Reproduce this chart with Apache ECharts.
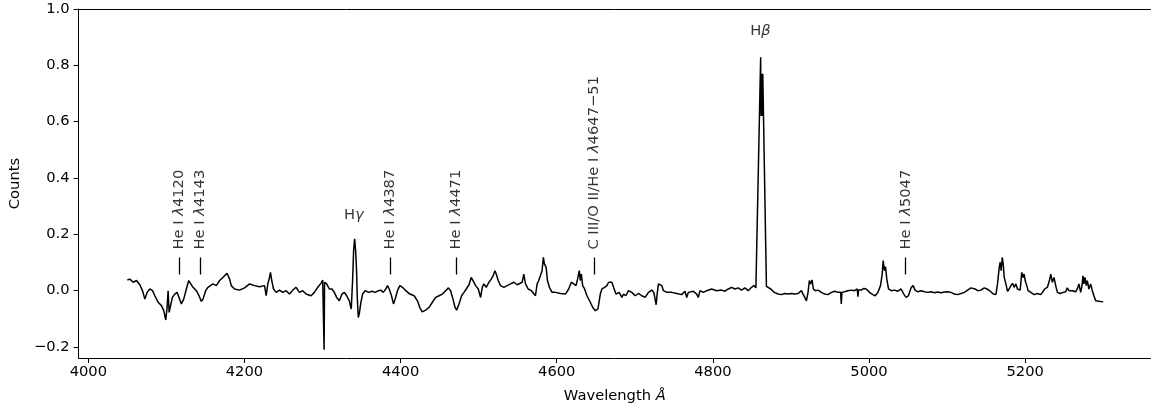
<!DOCTYPE html>
<html><head><meta charset="utf-8">
<script src="https://cdn.jsdelivr.net/npm/echarts@6/dist/echarts.min.js"></script>
<style>html,body{margin:0;padding:0;background:#fff}#c{width:1151px;height:412px}</style>
</head><body><div id="c"></div>
<script>
const wavelength = [
4050.0,4053.2,4057.5,4061.7,4066.0,4069.4,4072.4,4075.4,4078.8,4082.2,4085.2,4089.4,4093.7,4096.6,4099.2,4100.9,4102.2,4103.5,4105.2,4107.7,
4110.7,4113.7,4116.2,4119.2,4122.2,4125.6,4128.6,4131.1,4134.1,4138.4,4141.8,4144.8,4146.9,4150.3,4153.3,4156.3,4159.7,4163.9,4168.2,4172.4,
4177.6,4181.0,4183.1,4187.3,4193.7,4200.1,4206.5,4212.9,4219.3,4225.7,4227.8,4229.9,4232.1,4233.3,4235.0,4237.2,4240.6,4244.8,4249.1,4253.3,
4257.6,4261.9,4266.1,4270.4,4274.6,4278.9,4285.3,4289.5,4293.8,4298.0,4300.2,4301.5,4302.0,4302.6,4305.3,4308.7,4312.1,4315.1,4318.1,4321.5,
4324.9,4327.9,4330.9,4334.3,4336.8,4338.5,4339.8,4341.1,4342.4,4343.6,4344.5,4345.8,4347.0,4349.2,4351.3,4354.7,4359.0,4363.2,4367.5,4371.7,
4374.7,4377.7,4381.1,4383.2,4385.4,4388.3,4390.9,4393.0,4396.0,4399.0,4402.4,4406.7,4411.8,4417.3,4421.6,4424.5,4427.6,4432.2,4436.5,4440.7,
4445.0,4449.2,4453.5,4457.7,4461.2,4464.1,4467.1,4469.7,4471.8,4474.8,4478.2,4481.2,4484.1,4487.6,4490.5,4492.7,4496.1,4499.5,4502.5,4504.6,
4506.7,4509.7,4513.1,4516.1,4518.6,4520.8,4522.5,4525.0,4528.0,4532.3,4536.5,4540.8,4545.0,4549.3,4555.7,4557.8,4560.0,4563.4,4567.6,4572.7,
4574.9,4577.0,4579.1,4581.2,4582.9,4584.2,4586.4,4588.1,4590.6,4594.0,4598.3,4604.7,4611.1,4615.3,4618.7,4621.7,4624.7,4627.2,4628.9,4630.2,
4631.5,4633.2,4635.7,4638.7,4643.0,4646.0,4649.4,4652.8,4655.8,4657.9,4661.3,4664.3,4666.4,4668.5,4670.7,4672.8,4675.8,4680.0,4683.4,4685.6,
4688.5,4692.0,4696.2,4700.5,4704.7,4709.0,4713.2,4717.5,4721.8,4724.3,4726.0,4727.3,4728.6,4730.3,4732.4,4734.5,4736.7,4740.9,4747.3,4753.7,
4760.1,4764.3,4766.5,4768.6,4775.0,4779.2,4781.4,4783.5,4787.8,4792.0,4798.4,4804.8,4811.2,4815.5,4819.7,4824.0,4828.2,4832.5,4836.7,4841.0,
4845.3,4849.5,4852.5,4855.1,4856.0,4861.2,4861.8,4862.5,4863.2,4863.9,4868.6,4870.8,4874.2,4878.5,4883.6,4887.8,4892.1,4896.4,4900.6,4904.9,
4909.1,4913.4,4915.5,4917.7,4919.8,4921.9,4923.6,4925.3,4927.0,4928.7,4931.3,4934.7,4939.0,4943.2,4947.5,4951.7,4956.0,4960.2,4963.6,4964.5,
4965.3,4968.7,4973.0,4977.3,4981.5,4984.9,4985.8,4986.6,4990.0,4993.4,4996.4,5000.7,5004.9,5007.9,5011.3,5014.7,5016.9,5018.1,5019.8,5021.1,
5022.8,5025.0,5028.4,5032.6,5036.9,5041.1,5044.5,5047.5,5050.5,5053.9,5056.5,5059.0,5062.4,5066.7,5071.0,5075.2,5079.5,5083.7,5088.0,5092.2,
5096.5,5100.8,5105.0,5109.3,5113.5,5117.8,5122.1,5126.3,5130.6,5132.7,5135.7,5139.1,5143.3,5147.6,5151.0,5155.3,5159.5,5162.5,5164.6,5166.8,
5168.0,5169.3,5170.6,5171.9,5173.2,5175.3,5177.4,5179.5,5181.7,5183.8,5185.9,5188.1,5190.2,5193.6,5195.7,5197.4,5198.7,5200.0,5202.1,5203.8,
5207.2,5211.5,5215.7,5220.0,5222.1,5225.1,5228.5,5231.1,5232.8,5234.9,5237.0,5239.1,5241.3,5244.7,5248.9,5251.9,5254.0,5256.2,5260.4,5264.7,
5266.8,5268.9,5271.1,5272.8,5274.1,5275.3,5276.6,5278.3,5279.6,5281.7,5283.9,5286.0,5288.1,5290.3,5292.4,5296.6,5300.0
];
const counts = [
0.038,0.041,0.030,0.036,0.021,0.000,-0.030,-0.006,0.006,0.000,-0.018,-0.041,-0.053,-0.071,-0.104,-0.059,0.000,-0.077,-0.083,-0.024,
-0.012,-0.006,-0.024,-0.047,-0.030,0.006,0.036,0.030,0.012,0.000,-0.018,-0.038,-0.030,0.000,0.012,0.018,0.024,0.018,0.036,0.047,
0.062,0.041,0.018,0.006,0.002,0.010,0.024,0.018,0.014,0.018,-0.018,0.024,0.047,0.065,0.036,0.006,-0.006,0.002,-0.006,0.000,
-0.012,0.002,0.012,-0.006,0.000,-0.012,-0.018,-0.006,0.012,0.026,0.038,0.036,-0.210,0.030,0.024,0.006,0.006,-0.006,-0.024,-0.036,
-0.012,-0.006,-0.018,-0.036,-0.065,0.036,0.142,0.184,0.142,0.071,-0.024,-0.095,-0.083,-0.041,-0.012,0.000,-0.006,-0.002,-0.006,0.000,
0.002,-0.006,0.006,0.018,0.006,-0.018,-0.047,-0.030,0.000,0.018,0.012,0.000,-0.012,-0.018,-0.036,-0.059,-0.075,-0.069,-0.059,-0.041,
-0.024,-0.018,-0.012,0.000,0.010,0.000,-0.030,-0.059,-0.069,-0.047,-0.018,-0.006,0.006,0.021,0.047,0.036,0.018,0.006,-0.024,0.012,
0.024,0.012,0.030,0.041,0.053,0.071,0.059,0.036,0.018,0.012,0.018,0.024,0.030,0.021,0.030,0.059,0.024,0.006,0.000,-0.018,
0.024,0.036,0.041,0.071,0.118,0.095,0.083,0.036,0.012,-0.006,-0.006,-0.010,-0.012,0.006,0.030,0.024,0.018,0.047,0.071,0.036,
0.059,0.018,0.006,-0.018,-0.041,-0.059,-0.071,-0.065,-0.012,0.006,0.012,0.018,0.030,0.024,0.030,0.012,-0.012,-0.006,-0.024,-0.012,
-0.018,0.000,-0.006,-0.018,-0.010,-0.018,-0.024,-0.006,0.002,-0.006,-0.030,-0.050,-0.012,0.024,0.026,0.018,0.000,-0.006,-0.006,-0.010,
-0.014,-0.002,-0.024,-0.006,-0.002,-0.012,-0.024,0.000,-0.006,0.000,0.006,0.000,0.002,-0.002,0.006,0.012,0.006,0.010,0.002,0.010,
0.000,0.012,0.018,0.010,0.010,0.829,0.620,0.770,0.620,0.770,0.015,0.014,0.006,-0.006,-0.012,-0.014,-0.010,-0.012,-0.010,-0.012,
-0.010,0.000,-0.012,-0.024,-0.036,-0.006,0.036,0.024,0.038,0.006,0.000,0.002,-0.006,-0.012,-0.014,-0.006,-0.002,-0.006,-0.006,-0.047,
-0.006,-0.004,0.000,0.002,0.000,0.006,-0.021,0.002,0.002,0.008,0.006,-0.006,-0.014,-0.018,-0.006,0.018,0.059,0.107,0.071,0.085,
0.041,0.006,0.000,0.002,-0.002,0.006,-0.012,-0.024,-0.018,0.010,0.018,0.002,-0.004,0.000,-0.004,-0.006,-0.004,-0.007,-0.005,-0.007,
-0.005,-0.004,-0.006,-0.012,-0.014,-0.010,-0.006,0.002,0.010,0.012,0.006,0.000,0.002,0.010,0.006,-0.002,-0.012,-0.014,0.024,0.083,
0.101,0.071,0.118,0.095,0.047,0.024,-0.002,0.006,0.018,0.026,0.012,0.024,0.006,0.002,0.065,0.047,0.059,0.036,0.018,0.000,
-0.006,-0.014,-0.010,-0.014,-0.006,0.006,0.012,0.036,0.059,0.030,0.047,0.018,-0.006,-0.010,-0.006,-0.004,0.010,0.000,0.000,-0.004,
0.006,0.024,-0.006,0.018,0.053,0.024,0.047,0.018,0.036,0.006,0.024,0.000,-0.018,-0.036,-0.038,-0.038,-0.039
];
const xTicks = [4000, 4200, 4400, 4600, 4800, 5000, 5200];
const yTicks = [-0.2, 0.0, 0.2, 0.4, 0.6, 0.8, 1.0];
const featureNames = ['He I {i|λ}4120', 'He I {i|λ}4143', 'He I {i|λ}4387', 'He I {i|λ}4471', 'C III/O II/He I {i|λ}4647\u221251', 'He I {i|λ}5047'];
const featureWaves = [4117, 4143, 4387, 4471, 4648, 5047];
const balmerNames = ['H{i|γ}', 'H{i|β}'];
const balmerWaves = [4340, 4861];

const FONT = 'DejaVu Sans';
const FS = 14.7;
const txt = { color: '#000', fontFamily: FONT, fontSize: FS };
const rich = { i: { fontStyle: 'italic', color: '#000', fontFamily: FONT, fontSize: FS } };

const spectrum = wavelength.map((w, i) => [w, counts[i]]);
const tickTop = 0.118, tickBottom = 0.057, textStart = 0.146;
const balmerY = [0.268, 0.92];
const X_MIN = 3987.5, X_MAX = 5361.2;

const chart = echarts.init(document.getElementById('c'), null, { renderer: 'canvas' });
chart.setOption({
  animation: false,
  backgroundColor: '#fff',
  grid: { left: 76, right: 0, top: 9, bottom: 54, show: false, containLabel: false },
  xAxis: [{
    type: 'value', min: X_MIN, max: X_MAX, position: 'bottom',
    name: 'Wavelength {i|Å}', nameLocation: 'middle', nameGap: 31,
    nameTextStyle: Object.assign({}, txt, { rich: rich }),
    axisLine: { show: true, onZero: false, lineStyle: { color: '#000', width: 1 } },
    axisTick: { show: true, length: 5, lineStyle: { color: '#000', width: 1 }, customValues: xTicks },
    axisLabel: Object.assign({}, txt, { margin: 7, customValues: xTicks, formatter: v => String(Math.round(v)) }),
    splitLine: { show: false }
  }, {
    type: 'value', min: X_MIN, max: X_MAX, position: 'top',
    axisLine: { show: true, onZero: false, lineStyle: { color: '#000', width: 1 } },
    axisTick: { show: false }, axisLabel: { show: false }, splitLine: { show: false }
  }],
  yAxis: {
    type: 'value', min: -0.239, max: 1.0,
    name: 'Counts', nameLocation: 'middle', nameGap: 52, nameRotate: 90,
    nameTextStyle: txt,
    axisLine: { show: true, onZero: false, lineStyle: { color: '#000', width: 1 } },
    axisTick: { show: true, length: 5, lineStyle: { color: '#000', width: 1 }, customValues: yTicks },
    axisLabel: Object.assign({}, txt, { margin: 9, customValues: yTicks, formatter: v => v.toFixed(1).replace('-', '\u2212') }),
    splitLine: { show: false }
  },
  series: [
    {
      type: 'line', data: spectrum, showSymbol: false, symbol: 'none',
      lineStyle: { color: '#000', width: 1.5 }, clip: true, z: 3
    },
    {
      type: 'lines', coordinateSystem: 'cartesian2d',
      data: featureWaves.map(w => ({ coords: [[w, tickBottom], [w, tickTop]] })),
      lineStyle: { color: '#000', width: 1.3, opacity: 1 }, z: 4
    },
    {
      type: 'scatter', symbolSize: 0, silent: true, z: 5,
      data: featureWaves.map((w, i) => ({ value: [w, textStart], name: featureNames[i] })),
      label: Object.assign({}, txt, { show: true, position: 'inside', rotate: 90, align: 'left', verticalAlign: 'middle', formatter: '{b}', rich: rich })
    },
    {
      type: 'scatter', symbolSize: 0, silent: true, z: 5,
      data: balmerWaves.map((w, i) => ({ value: [w, balmerY[i]], name: balmerNames[i] })),
      label: Object.assign({}, txt, { show: true, position: 'inside', align: 'center', verticalAlign: 'middle', formatter: '{b}', rich: rich })
    }
  ]
});
</script></body></html>
